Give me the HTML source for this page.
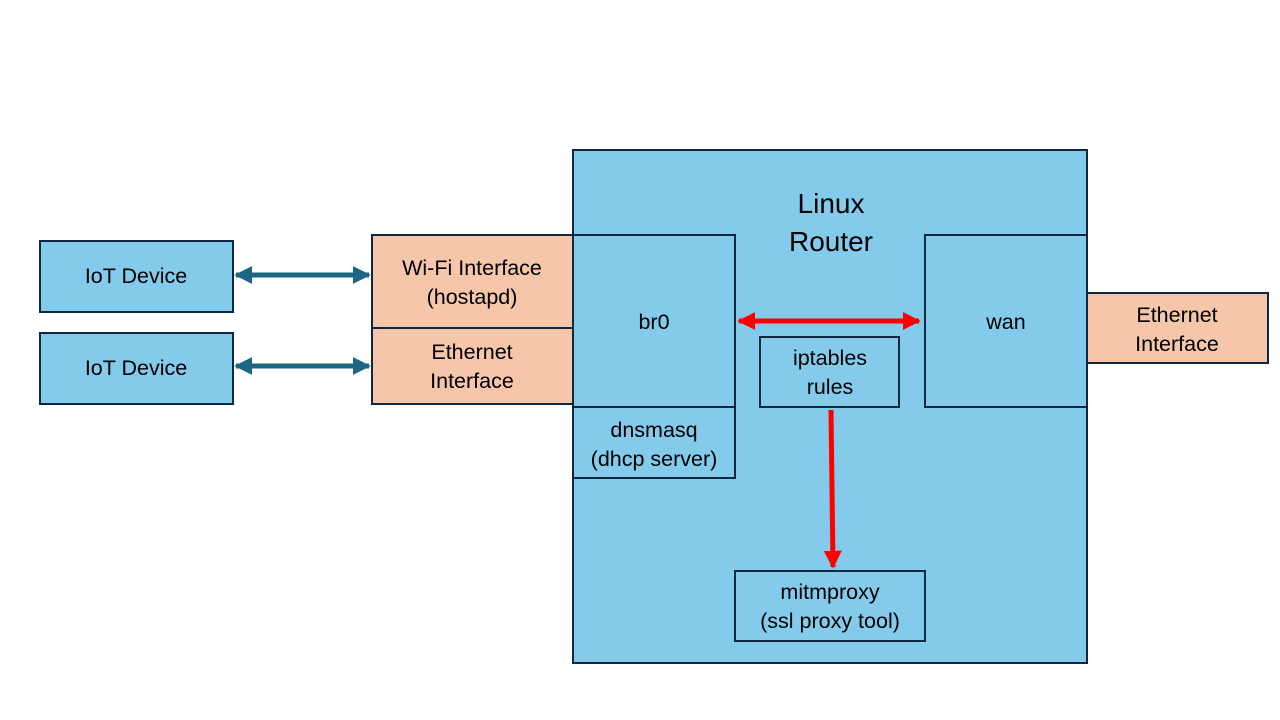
<!DOCTYPE html>
<html><head><meta charset="utf-8"><style>html,body{margin:0;padding:0;background:#fff}svg{display:block}</style></head><body>
<svg width="1280" height="720" xmlns="http://www.w3.org/2000/svg" font-family="Liberation Sans, sans-serif" font-size="21.5" fill="#000">
<defs>
<marker id="t" viewBox="0 0 10 10" refX="9" refY="5" markerWidth="3.6" markerHeight="3.6" orient="auto-start-reverse"><path d="M0,0L10,5L0,10z" fill="#1F6585"/></marker>
<marker id="r" viewBox="0 0 10 10" refX="9" refY="5" markerWidth="3.6" markerHeight="3.6" orient="auto-start-reverse"><path d="M0,0L10,5L0,10z" fill="#FF0000"/></marker>
</defs>
<g stroke="#0E2841" stroke-width="2">
<rect x="573" y="150" width="514" height="513" fill="#83CAEB"/>
<rect x="40" y="241" width="193" height="71" fill="#83CAEB"/>
<rect x="40" y="333" width="193" height="71" fill="#83CAEB"/>
<rect x="372" y="235" width="201" height="93" fill="#F5C6AA"/>
<rect x="372" y="328" width="201" height="76" fill="#F5C6AA"/>
<rect x="573" y="235" width="162" height="172" fill="#83CAEB"/>
<rect x="573" y="407" width="162" height="71" fill="#83CAEB"/>
<rect x="925" y="235" width="162" height="172" fill="#83CAEB"/>
<rect x="1087" y="293" width="181" height="70" fill="#F5C6AA"/>
<rect x="760" y="337" width="139" height="70" fill="#83CAEB"/>
<rect x="735" y="571" width="190" height="70" fill="#83CAEB"/>
</g>
<g stroke-width="5" fill="none">
<line x1="236" y1="275" x2="369" y2="275" stroke="#1F6585" marker-start="url(#t)" marker-end="url(#t)"/>
<line x1="236" y1="366" x2="369" y2="366" stroke="#1F6585" marker-start="url(#t)" marker-end="url(#t)"/>
<line x1="739" y1="321" x2="919" y2="321" stroke="#FF0000" marker-start="url(#r)" marker-end="url(#r)"/>
<line x1="831" y1="410" x2="833" y2="567" stroke="#FF0000" marker-end="url(#r)"/>
</g>
<g text-anchor="middle">
<text x="831" y="213" font-size="28">Linux</text>
<text x="831" y="251" font-size="28">Router</text>
<text x="136" y="283">IoT Device</text>
<text x="136" y="375">IoT Device</text>
<text x="472" y="275">Wi-Fi Interface</text>
<text x="472" y="304">(hostapd)</text>
<text x="472" y="359">Ethernet</text>
<text x="472" y="388">Interface</text>
<text x="654" y="329">br0</text>
<text x="654" y="437">dnsmasq</text>
<text x="654" y="466">(dhcp server)</text>
<text x="1006" y="329">wan</text>
<text x="1177" y="322">Ethernet</text>
<text x="1177" y="351">Interface</text>
<text x="830" y="365">iptables</text>
<text x="830" y="394">rules</text>
<text x="830" y="599">mitmproxy</text>
<text x="830" y="628">(ssl proxy tool)</text>
</g>
</svg>
</body></html>
